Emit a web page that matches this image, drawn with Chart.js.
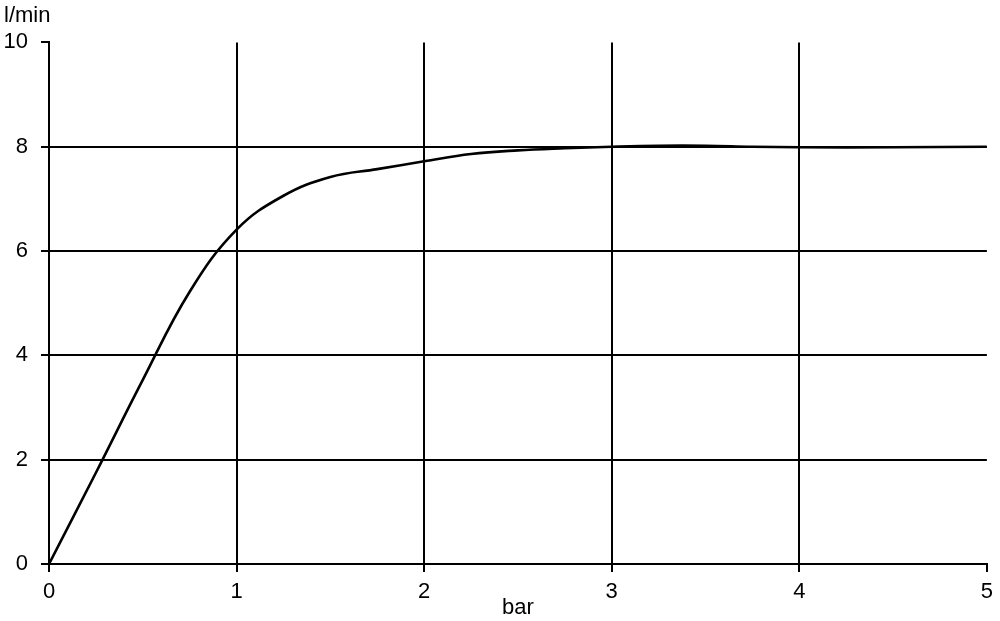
<!DOCTYPE html>
<html>
<head>
<meta charset="utf-8">
<script src="https://cdn.jsdelivr.net/npm/chart.js@4"></script>
<style>
  html, body { margin: 0; padding: 0; background: #fff; }
  #wrap { width: 1000px; height: 621px; }
</style>
</head>
<body>
<div id="wrap"><canvas id="myChart"></canvas></div>
<script>
  // pressure (bar) vs flow (l/min)
  const pressure = [0, 0.25, 0.5, 0.75, 1, 1.25, 1.5, 1.75, 2, 2.25, 2.5, 2.75, 3, 3.25, 3.5, 3.75, 4, 4.5, 5];
  const flow = [0, 1.75, 3.53, 5.22, 6.41, 7.06, 7.42, 7.57, 7.72, 7.86, 7.93, 7.97, 8.0, 8.02, 8.02, 8.0, 7.99, 7.99, 8.0];
  const xTicks = [0, 1, 2, 3, 4, 5];
  const yTicks = [0, 2, 4, 6, 8, 10];

  const font = { family: 'Liberation Sans', size: 22, weight: 'normal' };

  const data = {
    datasets: [{
      label: 'l/min',
      data: pressure.map((p, i) => ({ x: p, y: flow[i] })),
      borderColor: '#000',
      borderWidth: 2.6,
      pointRadius: 0,
      tension: 0.4,
      fill: false
    }]
  };

  const config = {
    type: 'line',
    data: data,
    options: {
      responsive: true,
      maintainAspectRatio: false,
      animation: false,
      layout: { padding: { left: 4, right: 12, top: 0, bottom: 0 } },
      plugins: {
        legend: { display: false },
        tooltip: { enabled: false },
        title: {
          display: true,
          text: 'l/min',
          align: 'start',
          color: '#000',
          font: font,
          padding: { top: 3, bottom: 13 }
        }
      },
      scales: {
        x: {
          type: 'linear',
          min: 0,
          max: 5,
          afterBuildTicks: (axis) => { axis.ticks = xTicks.map(v => ({ value: v })); },
          afterFit: (axis) => { axis.height = 57; },
          ticks: { color: '#000', font: font, padding: 7 },
          grid: {
            color: (ctx) => ctx.tick && ctx.tick.value === 5 ? 'rgba(0,0,0,0)' : '#000',
            tickColor: '#000',
            lineWidth: 2,
            tickLength: 8
          },
          border: { color: '#000', width: 2 },
          title: {
            display: true,
            text: 'bar',
            color: '#000',
            font: font,
            padding: { top: 0, bottom: 0 }
          }
        },
        y: {
          min: 0,
          max: 10,
          afterBuildTicks: (axis) => { axis.ticks = yTicks.map(v => ({ value: v })); },
          afterFit: (axis) => { axis.width = 45; },
          ticks: { color: '#000', font: font, padding: 13 },
          grid: {
            color: (ctx) => ctx.tick && ctx.tick.value === 10 ? 'rgba(0,0,0,0)' : '#000',
            tickColor: '#000',
            lineWidth: 2,
            tickLength: 8
          },
          border: { color: '#000', width: 2 }
        }
      }
    }
  };

  const myChart = new Chart(
    document.getElementById('myChart'),
    config
  );
</script>
</body>
</html>
